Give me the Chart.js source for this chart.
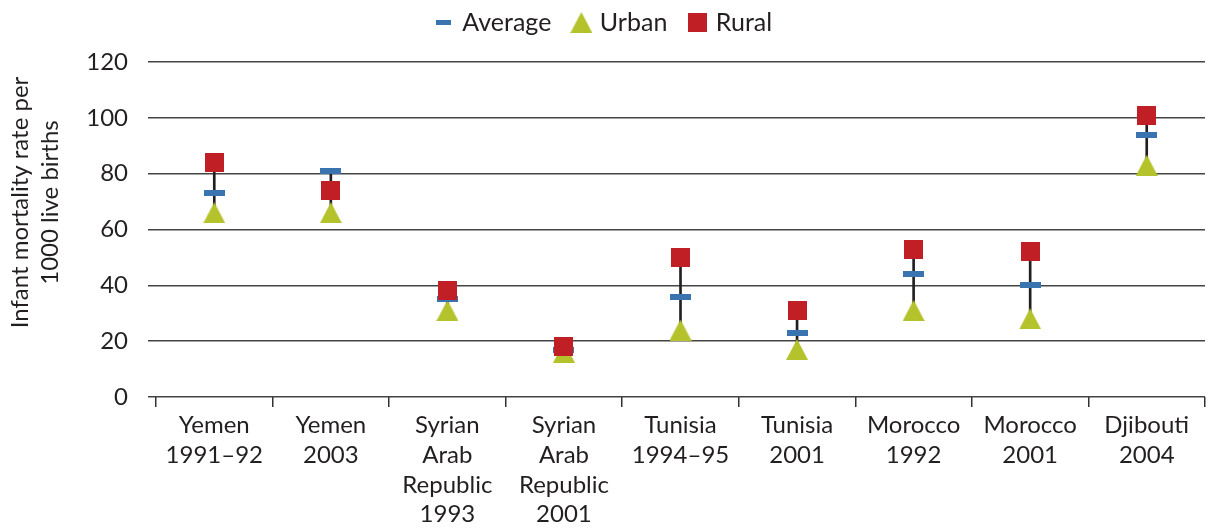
<!DOCTYPE html>
<html>
<head>
<meta charset="utf-8">
<script src="https://cdn.jsdelivr.net/npm/chart.js@4/dist/chart.umd.min.js"></script>
<style>
  html, body { margin: 0; padding: 0; background: #fff; }
  #wrap { width: 1210px; height: 529px; position: relative; }
</style>
</head>
<body>
<div id="wrap"><canvas id="chart"></canvas></div>
<script>
// Survey labels (one entry per line of the axis label)
const surveys = [
    ['Yemen', '1991–92'],
    ['Yemen', '2003'],
    ['Syrian', 'Arab', 'Republic', '1993'],
    ['Syrian', 'Arab', 'Republic', '2001'],
    ['Tunisia', '1994–95'],
    ['Tunisia', '2001'],
    ['Morocco', '1992'],
    ['Morocco', '2001'],
    ['Djibouti', '2004'],
];

// Infant deaths per 1000 live births
const averageRate = [73, 81, 35, 17, 36, 23, 44, 40, 94];
const urbanRate   = [66, 66, 31, 16, 24, 17, 31, 28, 83];
const ruralRate   = [84, 74, 38, 18, 50, 31, 53, 52, 101];

const yTickValues = [0, 20, 40, 60, 80, 100, 120];

const INK = '#231f20';
const BLUE = '#3a74b0';
const GREEN = '#b4c22b';
const RED = '#c01f26';
const FONT = 'Lato, "Open Sans", sans-serif';

// vertical span from lowest to highest value of each survey
const spans = averageRate.map((a, i) => {
    const vals = [a, urbanRate[i], ruralRate[i]];
    return [Math.min(...vals), Math.max(...vals)];
});

function makeMarker(w, h, draw) {
    const c = document.createElement('canvas');
    c.width = w;
    c.height = h;
    draw(c.getContext('2d'), w, h);
    return c;
}

const dashMarker = makeMarker(21, 6, (ctx, w, h) => {
    ctx.fillStyle = BLUE;
    ctx.fillRect(0, 0, w, h);
});
const dashLegend = makeMarker(15, 5, (ctx, w, h) => {
    ctx.fillStyle = BLUE;
    ctx.fillRect(0, 0, w, h);
});
const triangleMarker = makeMarker(22, 21, (ctx, w, h) => {
    ctx.fillStyle = GREEN;
    ctx.beginPath();
    ctx.moveTo(w / 2, 0);
    ctx.lineTo(w, h);
    ctx.lineTo(0, h);
    ctx.closePath();
    ctx.fill();
});
const squareMarker = makeMarker(19, 19, (ctx, w, h) => {
    ctx.fillStyle = RED;
    ctx.fillRect(0, 0, w, h);
});

const legendItems = [
    { text: 'Average', pointStyle: dashLegend },
    { text: 'Urban', pointStyle: triangleMarker },
    { text: 'Rural', pointStyle: squareMarker },
];

// keep a fixed band for the legend above the plot
const legendBand = {
    id: 'legendBand',
    beforeLayout(chart) {
        const legend = chart.legend;
        if (!legend || legend._banded) return;
        const fit = legend.fit;
        legend.fit = function () {
            fit.call(this);
            this.height = 76;
        };
        legend._banded = true;
    }
};

const ctx = document.getElementById('chart').getContext('2d');

new Chart(ctx, {
    type: 'bar',
    data: {
        labels: surveys,
        datasets: [
            {
                type: 'line',
                label: 'Rural',
                data: ruralRate,
                showLine: false,
                pointStyle: squareMarker,
                order: 1
            },
            {
                type: 'line',
                label: 'Average',
                data: averageRate,
                showLine: false,
                pointStyle: dashMarker,
                order: 2
            },
            {
                type: 'line',
                label: 'Urban',
                data: urbanRate,
                showLine: false,
                pointStyle: triangleMarker,
                order: 3
            },
            {
                label: 'range',
                data: spans,
                backgroundColor: INK,
                barThickness: 2,
                order: 4
            }
        ]
    },
    plugins: [legendBand],
    options: {
        responsive: true,
        maintainAspectRatio: false,
        animation: false,
        // legend padding doubles as item spacing, so pull the band up a little
        layout: { padding: { top: -14, left: 0, right: 0, bottom: 0 } },
        plugins: {
            tooltip: { enabled: false },
            legend: {
                position: 'top',
                labels: {
                    usePointStyle: true,
                    pointStyleWidth: 12,
                    padding: 24,
                    color: INK,
                    font: { family: FONT, size: 25 },
                    generateLabels: () => legendItems.map(item => ({
                        text: item.text,
                        pointStyle: item.pointStyle,
                        fontColor: INK,
                        hidden: false,
                        lineWidth: 0
                    }))
                }
            }
        },
        scales: {
            x: {
                offset: true,
                border: { display: false },
                grid: {
                    offset: true,
                    drawOnChartArea: false,
                    drawTicks: true,
                    tickLength: 10,
                    color: '#333',
                    lineWidth: 1.5
                },
                ticks: {
                    color: INK,
                    padding: 4,
                    maxRotation: 0,
                    autoSkip: false,
                    font: { family: FONT, size: 24, lineHeight: 1.23 }
                },
                afterFit: scale => { scale.height = 132; }
            },
            y: {
                min: 0,
                max: 120,
                border: { display: false },
                grid: {
                    color: '#444',
                    lineWidth: 1.5,
                    tickLength: 8
                },
                afterBuildTicks: scale => {
                    scale.ticks = yTickValues.map(v => ({ value: v }));
                },
                ticks: {
                    color: INK,
                    padding: 20,
                    font: { family: FONT, size: 24 }
                },
                title: {
                    display: true,
                    // leading em spaces lift the title slightly above the axis middle
                    text: ['\u2003\u2003\u2003Infant mortality rate per', '\u2003\u2003\u20031000 live births'],
                    color: INK,
                    padding: { top: 5, bottom: 0 },
                    font: { family: FONT, size: 24, lineHeight: 30 / 24 }
                },
                afterFit: scale => {
                    scale.width = 156;
                }
            }
        }
    }
});
</script>
</body>
</html>
